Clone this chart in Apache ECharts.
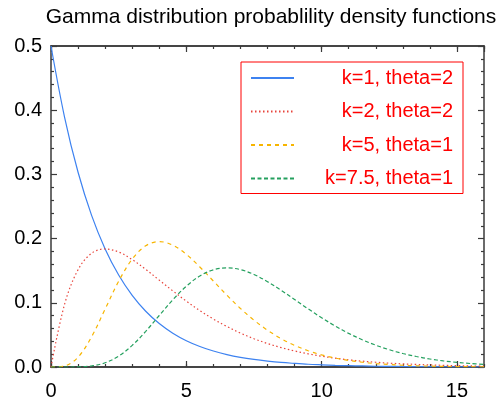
<!DOCTYPE html>
<html><head><meta charset="utf-8">
<script src="https://cdn.jsdelivr.net/npm/echarts@6/dist/echarts.min.js"></script>
<style>html,body{margin:0;padding:0;background:#fff}#c{width:499px;height:405px}</style>
</head><body><div id="c"></div>
<script>
var titleText = 'Gamma distribution probablility density functions';
var seriesNames = ['k=1, theta=2', 'k=2, theta=2', 'k=5, theta=1', 'k=7.5, theta=1'];
var xs = [0,0.5,1,1.5,2,2.5,3,3.5,4,4.5,5,5.5,6,6.5,7,7.5,8,8.5,9,9.5,10,10.5,11,11.5,12,12.5,13,13.5,14,14.5,15,15.5,16];
var yK1 = [0.5,0.3894,0.3033,0.2362,0.1839,0.1433,0.1116,0.0869,0.0677,0.0527,0.0410,0.0320,0.0249,0.0194,0.0151,0.0118,0.0092,0.0071,0.0056,0.0043,0.0034,0.0026,0.0020,0.0016,0.0012,0.0010,0.0008,0.0006,0.0005,0.0004,0.0003,0.0002,0.0002];
var yK2 = [0,0.0974,0.1516,0.1771,0.1839,0.1791,0.1673,0.1521,0.1353,0.1186,0.1026,0.0879,0.0747,0.0631,0.0528,0.0441,0.0366,0.0303,0.0250,0.0205,0.0168,0.0138,0.0112,0.0091,0.0074,0.0060,0.0049,0.0040,0.0032,0.0026,0.0021,0.0017,0.0013];
var yK5 = [0,0.0016,0.0153,0.0471,0.0902,0.1336,0.1680,0.1888,0.1954,0.1898,0.1755,0.1558,0.1339,0.1118,0.0912,0.0729,0.0573,0.0443,0.0337,0.0254,0.0189,0.0140,0.0102,0.0074,0.0053,0.0038,0.0027,0.0019,0.0013,0.0009,0.0007,0.0005,0.0003];
var yK75 = [0,0.0000,0.0002,0.0017,0.0066,0.0169,0.0336,0.0555,0.0802,0.1046,0.1258,0.1418,0.1514,0.1545,0.1517,0.1441,0.1329,0.1196,0.1051,0.0906,0.0767,0.0639,0.0524,0.0425,0.0340,0.0269,0.0210,0.0163,0.0125,0.0095,0.0072,0.0054,0.0040];

function pairs(ys){ return xs.map(function(x,i){ return [x, ys[i]]; }); }

var font = 'Helvetica, "Liberation Sans", Arial, sans-serif';
var axisColor = '#3a3a3a';
function xAx(pos, interval, len, labels){
  return {type:'value', position:pos, min:0, max:16, interval:interval,
    axisLine:{show:true, onZero:false, lineStyle:{color:axisColor, width:1.5}},
    axisTick:{show:true, inside:true, length:len, lineStyle:{color:axisColor, width:1.2}},
    axisLabel:{show:labels, margin:14, color:'#000', fontSize:20, fontFamily:font, showMaxLabel:false},
    splitLine:{show:false}};
}
function yAx(pos, labels){
  return {type:'value', position:pos, min:0, max:0.5, interval:0.1,
    axisLine:{show:true, onZero:false, lineStyle:{color:axisColor, width:1.5}},
    axisTick:{show:true, inside:true, length:6, lineStyle:{color:axisColor, width:1.2}},
    minorTick:{show:true, splitNumber:5, length:3, lineStyle:{color:axisColor, width:1.2}},
    axisLabel:{show:labels, margin:9, color:'#000', fontSize:20, fontFamily:font,
      formatter:function(v){ return v.toFixed(1); }},
    splitLine:{show:false}};
}
var colors = ['#3d82f0','#e8453c','#f7b500','#24a05e'];
var styles = ['solid',[1.5,2.5],[4,4],[4,2.5]];
var ys = [yK1,yK2,yK5,yK75];
var series = seriesNames.map(function(n,i){
  return {name:n, type:'line', xAxisIndex:0, yAxisIndex:0, data:pairs(ys[i]), smooth:0.35,
    symbol:'none', lineStyle:{color:colors[i], width:1.2, type:styles[i]}, itemStyle:{color:colors[i]}};
});
var chart = echarts.init(document.getElementById('c'), null, {renderer:'canvas'});
chart.setOption({
  animation:false,
  backgroundColor:'#fff',
  title:{text:titleText, left:266, textAlign:'center', top:2,
    textStyle:{fontSize:21, fontWeight:'normal', color:'#000', fontFamily:font}},
  grid:{left:51, right:15, top:46, bottom:38},
  xAxis:[xAx('bottom',5,6,true), xAx('bottom',1,3,false), xAx('top',5,6,false), xAx('top',1,3,false)],
  yAxis:[yAx('left',true), yAx('right',false)],
  legend:{show:true, orient:'vertical', left:241, top:62,
    padding:[6,10,5,9], itemGap:13.5, itemWidth:43, itemHeight:14,
    borderColor:'#f00', borderWidth:1,
    itemStyle:{opacity:0},
    data:seriesNames,
    formatter:function(n){ return '{a|' + n + '}'; },
    textStyle:{color:'#f00', fontSize:20, fontFamily:font,
      rich:{a:{width:154, align:'right', color:'#f00', fontSize:20, lineHeight:20, fontFamily:font}}}},
  series:series
});
</script></body></html>
